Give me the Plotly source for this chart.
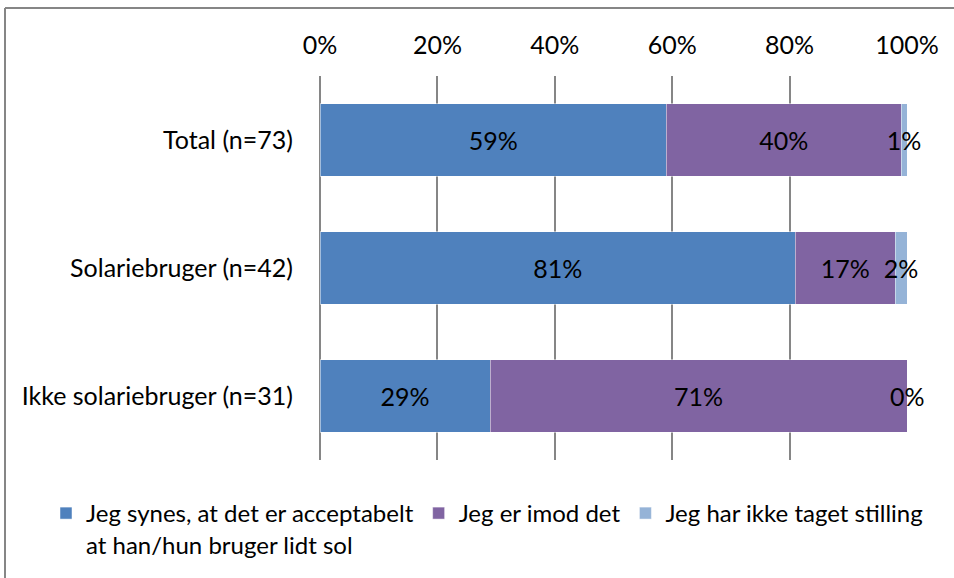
import plotly.graph_objects as go

categories = ["Total (n=73)", "Solariebruger (n=42)", "Ikke solariebruger (n=31)"]
series_names = [
    "Jeg synes, at det er acceptabelt<br>at han/hun bruger lidt sol",
    "Jeg er imod det",
    "Jeg har ikke taget stilling",
]
acceptabelt = [59, 81, 29]
imod = [40, 17, 71]
ingen_stilling = [1, 2, 0]
tick_values = [0, 20, 40, 60, 80, 100]
tick_labels = ["0%", "20%", "40%", "60%", "80%", "100%"]

series = [acceptabelt, imod, ingen_stilling]
colors = ["#4F81BD", "#8064A2", "#95B3D7"]
FONT = "Lato, Carlito, Calibri, sans-serif"
FS = 25

fig = go.Figure()
for name, vals, col in zip(series_names, series, colors):
    fig.add_trace(go.Bar(
        y=categories, x=vals, name=name, orientation="h",
        marker=dict(color=col, line=dict(color="rgba(255,255,255,0.6)", width=0.8)),
        text=[f"{v}%" for v in vals], textposition="inside", textangle=0,
        insidetextanchor="middle", constraintext="none",
        textfont=dict(color="black", size=FS, family=FONT),
        cliponaxis=False,
    ))

# zero-width segments get no bar text, so label them at the stack end
annotations = []
for i, cat in enumerate(categories):
    for k, vals in enumerate(series):
        if vals[i] == 0:
            end = sum(s[i] for s in series[:k + 1])
            annotations.append(dict(
                x=end, y=cat, xref="x", yref="y", text=f"{vals[i]}%",
                showarrow=False, xanchor="center", yanchor="middle",
                font=dict(color="black", size=FS, family=FONT),
            ))

W, H = 954, 578
ml, mr, mt, mb = 320, 47, 76, 118
pw, ph = W - ml - mr, H - mt - mb

def px_x(p):
    return (p - ml) / pw

def px_y(p):
    return (H - mb - p) / ph

fig.update_layout(
    width=W, height=H, barmode="stack", bargap=0.43,
    margin=dict(l=ml, r=mr, t=mt, b=mb, autoexpand=False),
    paper_bgcolor="white", plot_bgcolor="white",
    font=dict(family=FONT, size=FS, color="black"),
    uniformtext=dict(minsize=FS, mode="show"),
    annotations=annotations,
    xaxis=dict(
        side="top", range=[0, 100], tickvals=tick_values, ticktext=tick_labels,
        showgrid=True, gridcolor="#868686", gridwidth=1.5,
        zeroline=True, zerolinecolor="#868686", zerolinewidth=1.5,
        showline=False, ticks="", ticklabelstandoff=16,
        tickfont=dict(size=FS),
    ),
    yaxis=dict(
        autorange="reversed", showgrid=False, ticks="", ticklabelstandoff=26,
        showline=False, tickfont=dict(size=FS),
    ),
    legend=dict(
        orientation="h", x=px_x(46), y=px_y(491), xanchor="left", yanchor="top",
        valign="top", font=dict(size=24), itemwidth=30, traceorder="normal",
        tracegroupgap=0,
    ),
    shapes=[
        dict(type="line", xref="paper", yref="paper",
             x0=px_x(5), x1=px_x(954), y0=px_y(8), y1=px_y(8),
             line=dict(color="#868686", width=2)),
        dict(type="line", xref="paper", yref="paper",
             x0=px_x(5), x1=px_x(5), y0=px_y(8), y1=px_y(578),
             line=dict(color="#868686", width=2)),
    ],
)

fig.write_html("out.html")
